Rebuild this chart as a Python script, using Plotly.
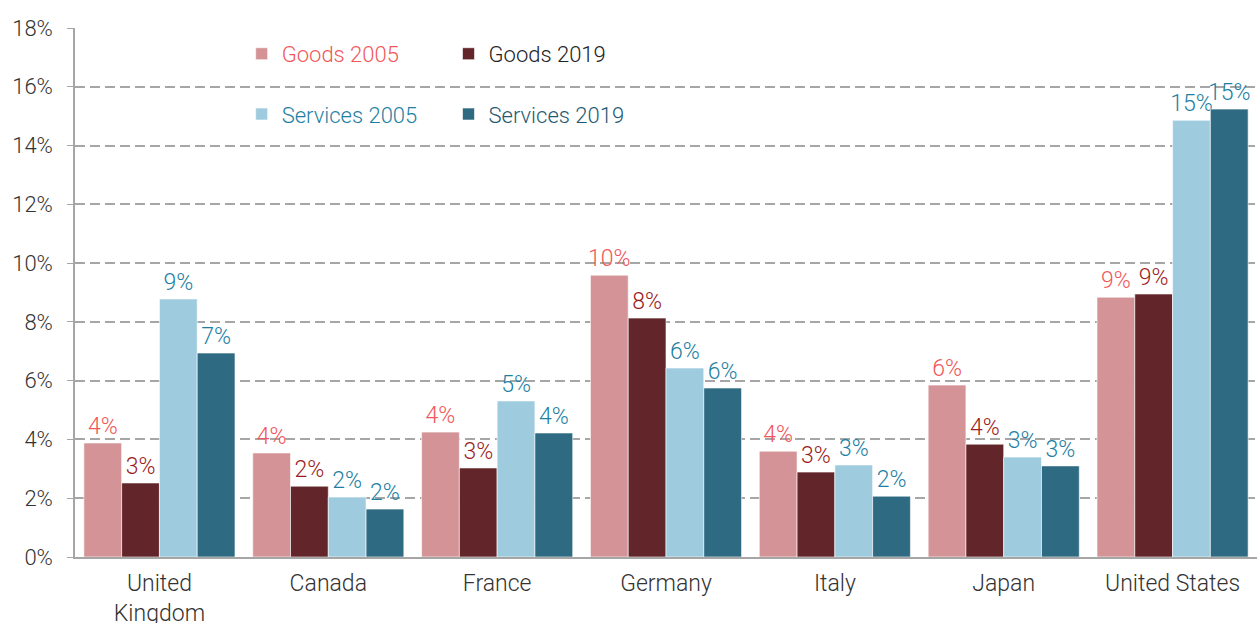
import plotly.graph_objects as go

countries = ["United<br>Kingdom", "Canada", "France", "Germany", "Italy", "Japan", "United States"]
goods_2005 = [3.88, 3.54, 4.25, 9.59, 3.60, 5.85, 8.84]
goods_2019 = [2.52, 2.41, 3.03, 8.13, 2.89, 3.84, 8.95]
services_2005 = [8.78, 2.04, 5.31, 6.43, 3.13, 3.40, 14.86]
services_2019 = [6.94, 1.63, 4.22, 5.75, 2.07, 3.10, 15.24]

series = [
    ("Goods 2005", goods_2005, "#D49497", "#F0575A", "legend"),
    ("Goods 2019", goods_2019, "#62252A", "#9B1C22", "legend2"),
    ("Services 2005", services_2005, "#9ECBDD", "#1E7FA3", "legend3"),
    ("Services 2019", services_2019, "#2E6A82", "#1E7FA3", "legend4"),
]
legend_text = {"legend": "#F0575A", "legend2": "#222222", "legend3": "#1E7FA3", "legend4": "#1F5A72"}
legend_pos = {"legend": (0.141, 0.951), "legend2": (0.316, 0.951), "legend3": (0.141, 0.837), "legend4": (0.316, 0.837)}

fig = go.Figure()
for name, vals, color, tcolor, lg in series:
    fig.add_trace(go.Bar(
        x=countries, y=vals, name=name, legend=lg,
        marker=dict(color=color, line=dict(color="rgba(255,255,255,0.6)", width=1)),
        texttemplate="%{y:.0f}%", textposition="outside", constraintext="none",
        textfont=dict(family="Roboto", size=23, weight=300, color=tcolor),
        cliponaxis=False,
    ))

layout_legends = {}
for lg, (lx, ly) in legend_pos.items():
    layout_legends[lg] = dict(
        x=lx, y=ly, xanchor="left", yanchor="middle", orientation="h",
        bgcolor="rgba(0,0,0,0)",
        font=dict(family="Roboto", size=22, weight=300, color=legend_text[lg]),
        itemwidth=30, tracegroupgap=0,
    )

fig.update_layout(
    width=1257, height=623,
    margin=dict(l=75, r=0, t=28, b=66, autoexpand=False),
    paper_bgcolor="white", plot_bgcolor="white",
    barmode="group", bargap=0.105, bargroupgap=0,
    showlegend=True,
    **layout_legends,
    xaxis=dict(
        tickfont=dict(family="Roboto", size=23, weight=300, color="#333333"),
        showline=True, linecolor="#A6A6A6", linewidth=1.5,
        ticks="", showgrid=False, ticklabelstandoff=5, automargin=False,
    ),
    yaxis=dict(
        range=[0, 18], dtick=2, tickformat=".0f", ticksuffix="%",
        tickfont=dict(family="Roboto", size=22, weight=300, color="#333333"),
        showgrid=True, gridcolor="#A6A6A6", griddash="10px,5px", gridwidth=2,
        showline=True, linecolor="#A6A6A6", linewidth=1.5,
        ticks="outside", ticklen=6, tickcolor="#A6A6A6",
        ticklabelstandoff=10, zeroline=False, automargin=False,
    ),
)

fig.write_html("out.html")
